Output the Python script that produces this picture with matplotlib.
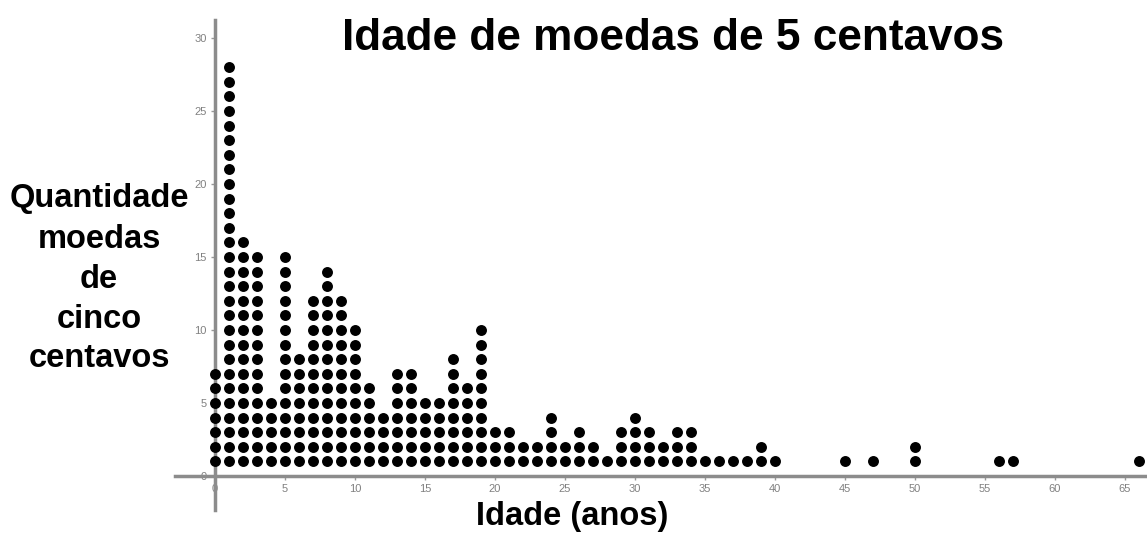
import numpy as np
import matplotlib
matplotlib.use('Agg')
import matplotlib.pyplot as plt

plt.rcParams['font.family'] = ['Liberation Sans', 'DejaVu Sans']

# ages (years) and number of coins for each age
ages = [0, 1, 2, 3, 4, 5, 6, 7, 8, 9, 10,
        11, 12, 13, 14, 15, 16, 17, 18, 19, 20,
        21, 22, 23, 24, 25, 26, 27, 28, 29, 30,
        31, 32, 33, 34, 35, 36, 37, 38, 39, 40,
        45, 47, 50, 56, 57, 66]
counts = [7, 28, 16, 15, 5, 15, 8, 12, 14, 12, 10,
          6, 4, 7, 7, 5, 5, 8, 6, 10, 3,
          3, 2, 2, 4, 2, 3, 2, 1, 3, 4,
          3, 2, 3, 3, 1, 1, 1, 1, 2, 1,
          1, 1, 2, 1, 1, 1]

xticks = list(range(0, 70, 5))
yticks = list(range(0, 35, 5))

title = 'Idade de moedas de 5 centavos'
xlab = 'Idade (anos)'
ylab_lines = ['Quantidade', 'moedas', 'de', 'cinco', 'centavos']

W, H = 1147, 536
fig = plt.figure(figsize=(W/100, H/100), dpi=100)
fig.patch.set_facecolor('white')

# axes box in pixels: x 175..1147, y 20..510
ax = fig.add_axes([175/W, 1-510/H, 972/W, 490/H])
ax.set_xlim(-40/14, 932/14)
ax.set_ylim(-34/14.6, 456/14.6)

# stacked dots
xs, ys = [], []
for a, c in zip(ages, counts):
    for k in range(1, c+1):
        xs.append(a)
        ys.append(k)
ax.scatter(xs, ys, s=62, color='black', zorder=3, clip_on=False, linewidths=0)

# axes through the origin
for s in ['top', 'right']:
    ax.spines[s].set_visible(False)
ax.spines['left'].set_position(('data', 0))
ax.spines['bottom'].set_position(('data', 0))
for s in ['left', 'bottom']:
    ax.spines[s].set_color('#8c8c8c')
    ax.spines[s].set_linewidth(2.5)

ax.set_xticks(xticks)
ax.set_yticks(yticks)
ax.tick_params(axis='both', direction='out', length=3, width=1,
               color='#999999', labelcolor='#808080', labelsize=8, pad=3)
ax.patch.set_alpha(0)

fig.text(673/W, 1-50/H, title, fontsize=31.8, fontweight='bold',
         ha='center', va='baseline')
fig.text(572/W, 1-525/H, xlab, fontsize=23.5, fontweight='bold',
         ha='center', va='baseline')
base = [207, 248, 288, 328, 367]
for txt, b in zip(ylab_lines, base):
    fig.text(99/W, 1-b/H, txt, fontsize=23.5, fontweight='bold',
             ha='center', va='baseline')

plt.savefig('out.png', dpi=100)
